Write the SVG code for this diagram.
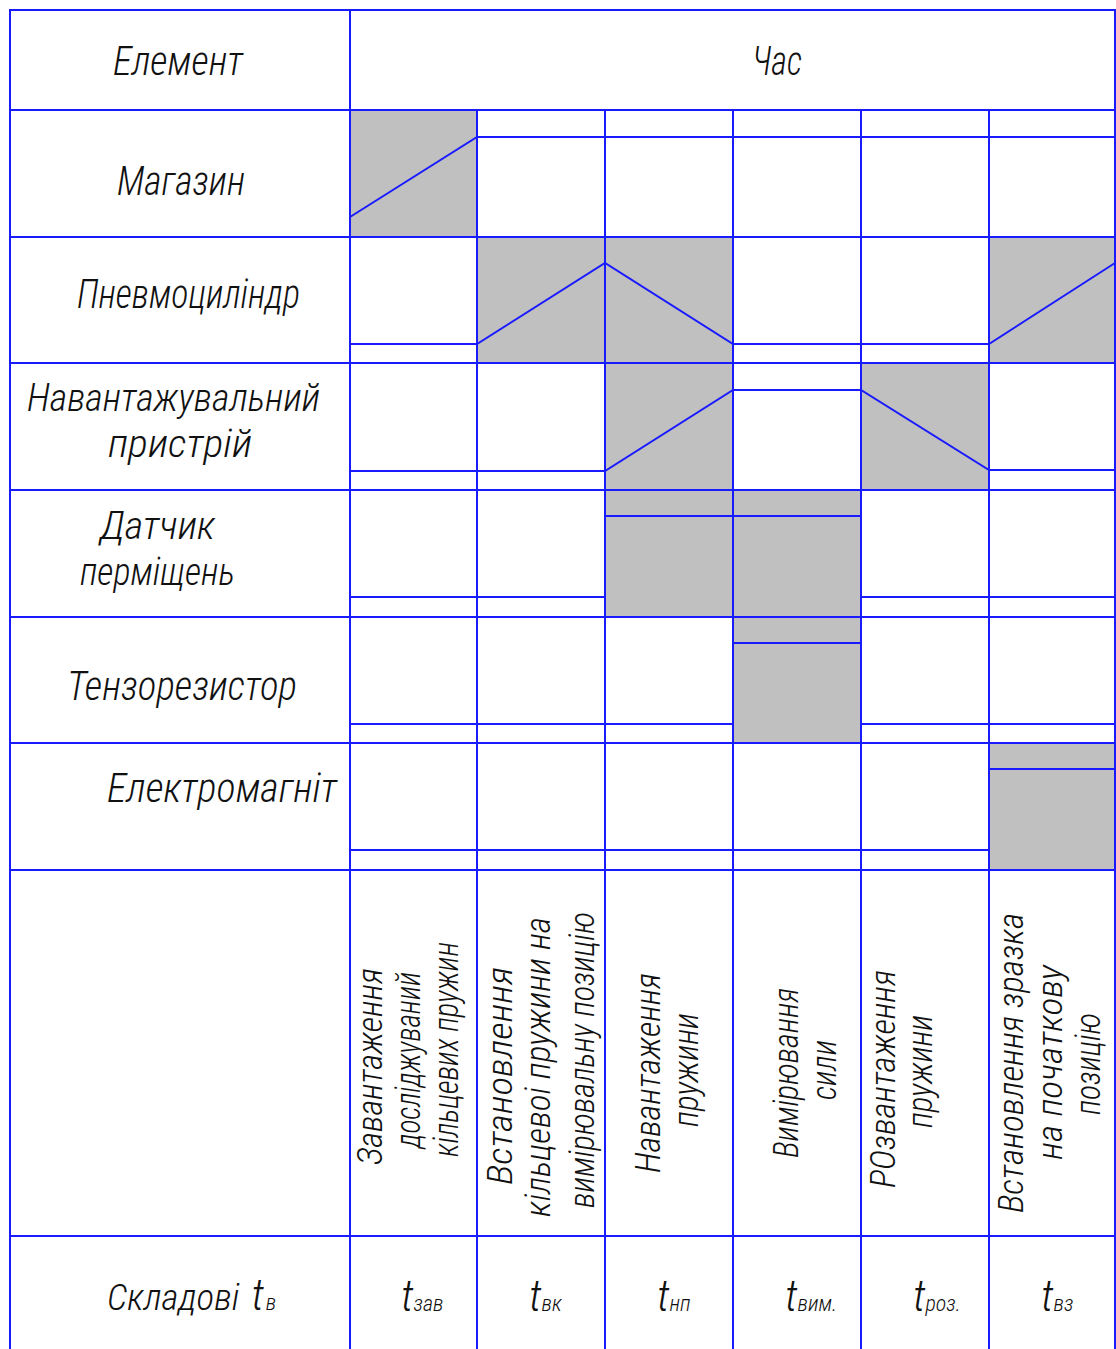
<svg xmlns="http://www.w3.org/2000/svg" width="1116" height="1349" viewBox="0 0 1116 1349">
<style>
.bg{fill:#ffffff}
.sh{fill:#c0c0c0;stroke:none}
.ln{stroke:#1a1aff;stroke-width:2;fill:none}
.t{font-family:"Roboto Condensed","Roboto","DejaVu Sans Condensed","Liberation Sans",sans-serif;font-style:italic;font-weight:300;fill:#111111;font-size:41px}
.m{font-size:38px}
.r{font-size:35px}
.s37{font-size:37px}
.ts{font-size:44px}
.sub{font-size:22px}
</style>
<rect class="bg" x="0" y="0" width="1116" height="1349"/>
<g id="shading">
<rect class="sh" x="350" y="110" width="127" height="127"/>
<rect class="sh" x="477" y="237" width="256" height="126"/>
<rect class="sh" x="989" y="237" width="126" height="126"/>
<rect class="sh" x="605" y="363" width="128" height="127"/>
<rect class="sh" x="861" y="363" width="128" height="127"/>
<rect class="sh" x="605" y="490" width="256" height="127"/>
<rect class="sh" x="733" y="617" width="128" height="126"/>
<rect class="sh" x="989" y="743" width="126" height="127"/>
</g>
<g id="grid" class="ln">
<rect x="10" y="10" width="1105" height="1345"/>
<line x1="350" y1="10" x2="350" y2="1349"/>
<line x1="477" y1="110" x2="477" y2="1349"/>
<line x1="605" y1="110" x2="605" y2="1349"/>
<line x1="733" y1="110" x2="733" y2="1349"/>
<line x1="861" y1="110" x2="861" y2="1349"/>
<line x1="989" y1="110" x2="989" y2="1349"/>
<line x1="10" y1="110" x2="1115" y2="110"/>
<line x1="10" y1="237" x2="1115" y2="237"/>
<line x1="10" y1="363" x2="1115" y2="363"/>
<line x1="10" y1="490" x2="1115" y2="490"/>
<line x1="10" y1="617" x2="1115" y2="617"/>
<line x1="10" y1="743" x2="1115" y2="743"/>
<line x1="10" y1="870" x2="1115" y2="870"/>
<line x1="10" y1="1236" x2="1115" y2="1236"/>
</g>
<g id="connectors" class="ln">
<polyline id="sig-magazyn" points="350,217 477,137 1115,137"/>
<polyline id="sig-pnevmo" points="350,344 477,344 605,263 733,344 989,344 1115,263"/>
<polyline id="sig-navant" points="350,471 605,471 733,390 861,390 989,470 1115,470"/>
<g id="sig-datchyk"><line x1="350" y1="597" x2="605" y2="597"/><line x1="605" y1="516" x2="861" y2="516"/><line x1="861" y1="597" x2="1115" y2="597"/></g>
<g id="sig-tenzo"><line x1="350" y1="724" x2="733" y2="724"/><line x1="733" y1="643" x2="861" y2="643"/><line x1="861" y1="724" x2="1115" y2="724"/></g>
<g id="sig-elektro"><line x1="350" y1="850" x2="989" y2="850"/><line x1="989" y1="769" x2="1115" y2="769"/></g>
</g>
<g id="header">
<text class="t" x="113" y="75" textLength="130" lengthAdjust="spacingAndGlyphs">Елемент</text>
<text class="t" x="752" y="75" textLength="50" lengthAdjust="spacingAndGlyphs">Час</text>
</g>
<g id="node-magazyn"><text class="t" x="117" y="195" textLength="128" lengthAdjust="spacingAndGlyphs">Магазин</text></g>
<g id="node-pnevmo"><text class="t" x="77" y="308" textLength="223" lengthAdjust="spacingAndGlyphs">Пневмоцилiндр</text></g>
<g id="node-navant">
<text class="t m" x="27" y="411" textLength="293" lengthAdjust="spacingAndGlyphs">Навантажувальний</text>
<text class="t m" x="108" y="457" textLength="144" lengthAdjust="spacingAndGlyphs">пристрiй</text>
</g>
<g id="node-datchyk">
<text class="t m" x="100" y="539" textLength="115" lengthAdjust="spacingAndGlyphs">Датчик</text>
<text class="t m" x="80" y="585" textLength="155" lengthAdjust="spacingAndGlyphs">перміщень</text>
</g>
<g id="node-tenzo"><text class="t" x="67" y="700" textLength="230" lengthAdjust="spacingAndGlyphs">Тензорезистор</text></g>
<g id="node-elektro"><text class="t" x="107" y="802" textLength="230" lengthAdjust="spacingAndGlyphs">Електромагніт</text></g>
<g id="stages">
<g id="stage-1">
<text class="t r" transform="translate(382,1165) rotate(-90)" textLength="197" lengthAdjust="spacingAndGlyphs">Завантаження</text>
<text class="t r" transform="translate(420,1148) rotate(-90)" textLength="176" lengthAdjust="spacingAndGlyphs">досліджуваний</text>
<text class="t r" transform="translate(458,1157) rotate(-90)" textLength="215" lengthAdjust="spacingAndGlyphs">кільцевих пружин</text>
</g>
<g id="stage-2">
<text class="t r" transform="translate(512,1185) rotate(-90)" textLength="218" lengthAdjust="spacingAndGlyphs">Встановлення</text>
<text class="t r" transform="translate(550,1217) rotate(-90)" textLength="300" lengthAdjust="spacingAndGlyphs">кільцевоі пружини на</text>
<text class="t r" transform="translate(594,1208) rotate(-90)" textLength="296" lengthAdjust="spacingAndGlyphs">вимірювальну позицію</text>
</g>
<g id="stage-3">
<text class="t r" transform="translate(660,1173) rotate(-90)" textLength="200" lengthAdjust="spacingAndGlyphs">Навантаження</text>
<text class="t r" transform="translate(698,1127) rotate(-90)" textLength="114" lengthAdjust="spacingAndGlyphs">пружини</text>
</g>
<g id="stage-4">
<text class="t r" transform="translate(798,1158) rotate(-90)" textLength="170" lengthAdjust="spacingAndGlyphs">Вимірювання</text>
<text class="t r" transform="translate(836,1100) rotate(-90)" textLength="60" lengthAdjust="spacingAndGlyphs">сили</text>
</g>
<g id="stage-5">
<text class="t r" transform="translate(895,1188) rotate(-90)" textLength="218" lengthAdjust="spacingAndGlyphs">РОзвантаження</text>
<text class="t r" transform="translate(932,1128) rotate(-90)" textLength="113" lengthAdjust="spacingAndGlyphs">пружини</text>
</g>
<g id="stage-6">
<text class="t r" transform="translate(1023,1213) rotate(-90)" textLength="300" lengthAdjust="spacingAndGlyphs">Встановлення зразка</text>
<text class="t r" transform="translate(1062,1160) rotate(-90)" textLength="195" lengthAdjust="spacingAndGlyphs">на початкову</text>
<text class="t r" transform="translate(1100,1115) rotate(-90)" textLength="102" lengthAdjust="spacingAndGlyphs">позицію</text>
</g>
</g>
<g id="components">
<text class="t s37" x="107" y="1310">Складові<tspan class="ts" dx="12">t</tspan><tspan class="sub" dx="2">в</tspan></text>
<text class="t" x="401" y="1311"><tspan class="ts">t</tspan><tspan class="sub">зав</tspan></text>
<text class="t" x="529" y="1311"><tspan class="ts">t</tspan><tspan class="sub">вк</tspan></text>
<text class="t" x="657" y="1311"><tspan class="ts">t</tspan><tspan class="sub">нп</tspan></text>
<text class="t" x="785" y="1311"><tspan class="ts">t</tspan><tspan class="sub">вим.</tspan></text>
<text class="t" x="913" y="1311"><tspan class="ts">t</tspan><tspan class="sub">роз.</tspan></text>
<text class="t" x="1041" y="1311"><tspan class="ts">t</tspan><tspan class="sub">вз</tspan></text>
</g>
</svg>
